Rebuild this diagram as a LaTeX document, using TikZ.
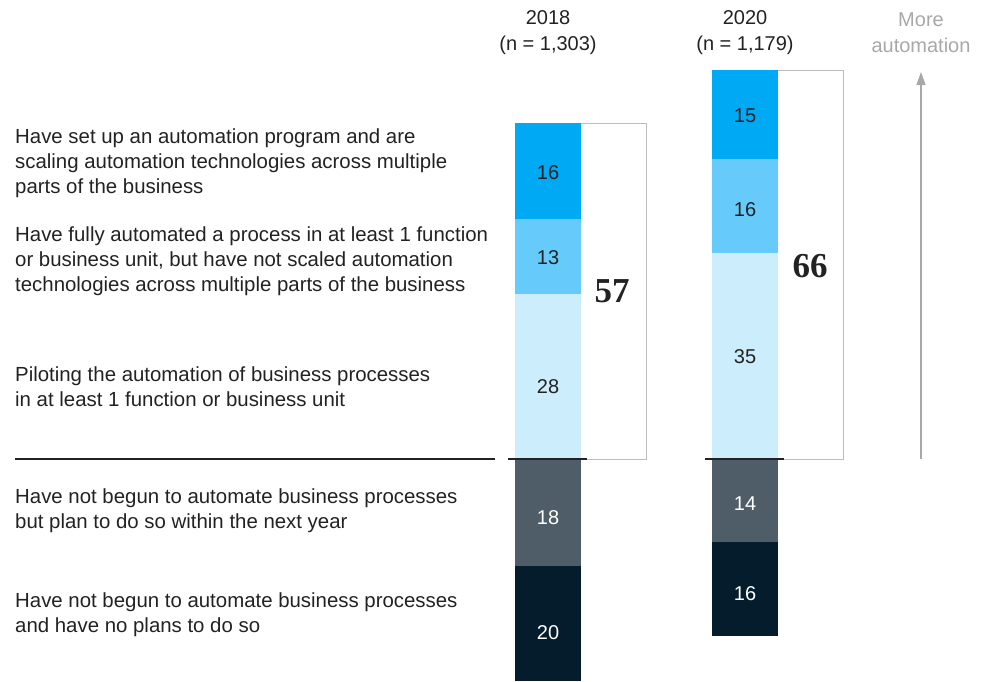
\documentclass[tikz,border=0pt]{standalone}
\usepackage{fontspec}
\setmainfont{Liberation Sans}
\newfontfamily\bigserif{Liberation Serif}
\usetikzlibrary{arrows.meta}
\definecolor{cA}{HTML}{00A9F4}
\definecolor{cB}{HTML}{66CBFA}
\definecolor{cC}{HTML}{CCEDFC}
\definecolor{cD}{HTML}{4F5D68}
\definecolor{cE}{HTML}{051C2C}
\definecolor{txt}{HTML}{222222}
\definecolor{boxgray}{HTML}{BDBDBD}
\definecolor{arrgray}{HTML}{A8A8A8}
\begin{document}
\begin{tikzpicture}[x=1pt,y=-1pt,
  lab/.style={anchor=west,align=left,inner sep=0pt,font=\fontsize{20.4}{25.2}\selectfont,text=txt},
  num/.style={inner sep=0pt,font=\fontsize{20}{24}\selectfont},
  hdr/.style={inner sep=0pt,align=center,font=\fontsize{20}{26}\selectfont},
  big/.style={inner sep=0pt,font=\fontsize{35}{40}\selectfont\bigserif\bfseries,text=txt},
  sep/.style={draw=txt,line width=1.2pt},
  outline/.style={draw=boxgray,line width=1pt}]
\useasboundingbox (0,0) rectangle (982,681);

% outline boxes
\draw[outline] (515,123) rectangle (646,459);
\draw[outline] (712,70) rectangle (843,459);

% 2018 bar
\fill[cA] (515,123) rectangle (581,219);
\fill[cB] (515,219) rectangle (581,294);
\fill[cC] (515,294) rectangle (581,459);
\fill[cD] (515,459) rectangle (581,566);
\fill[cE] (515,566) rectangle (581,681);
% 2020 bar
\fill[cA] (712,70) rectangle (778,159);
\fill[cB] (712,159) rectangle (778,253);
\fill[cC] (712,253) rectangle (778,459);
\fill[cD] (712,459) rectangle (778,542);
\fill[cE] (712,542) rectangle (778,636);

% separator lines
\coordinate (s1a) at (15,459); \coordinate (s1b) at (495,459);
\coordinate (s2a) at (508,459); \coordinate (s2b) at (587,459);
\coordinate (s3a) at (705,459); \coordinate (s3b) at (784,459);
\draw[sep] (s1a) -- (s1b);
\draw[sep] (s2a) -- (s2b);
\draw[sep] (s3a) -- (s3b);

% bar values
\node[num,text=txt] (a1) at (548,173) {16};
\node[num,text=txt] (a2) at (548,258) {13};
\node[num,text=txt] (a3) at (548,387) {28};
\node[num,text=white] (a4) at (548,518) {18};
\node[num,text=white] (a5) at (548,633) {20};
\node[num,text=txt] (b1) at (745,116) {15};
\node[num,text=txt] (b2) at (745,210) {16};
\node[num,text=txt] (b3) at (745,357) {35};
\node[num,text=white] (b4) at (745,504) {14};
\node[num,text=white] (b5) at (745,594) {16};

\node[big] (t1) at (612,291) {57};
\node[big] (t2) at (810,266) {66};

% headers
\node[hdr,text=txt] (h1) at (548,33) {2018\\(n = 1,303)};
\node[hdr,text=txt] (h2) at (745,33) {2020\\(n = 1,179)};
\node[hdr,text=arrgray] (h3) at (921,33) {More\\automation};

% arrow
\coordinate (arA) at (921,459);
\coordinate (arB) at (921,72);
\draw[arrgray,line width=1.2pt,-{Triangle[length=13pt,width=9pt]}] (arA) -- (arB);

% left labels
\node[lab] (l1) at (15,163) {Have set up an automation program and are\\scaling automation technologies across multiple\\parts of the business};
\node[lab] (l2) at (15,261) {Have fully automated a process in at least 1 function\\or business unit, but have not scaled automation\\technologies across multiple parts of the business};
\node[lab] (l3) at (15,387) {Piloting the automation of business processes\\in at least 1 function or business unit};
\node[lab] (l4) at (15,511) {Have not begun to automate business processes\\but plan to do so within the next year};
\node[lab] (l5) at (15,615) {Have not begun to automate business processes\\and have no plans to do so};
\end{tikzpicture}
\end{document}
